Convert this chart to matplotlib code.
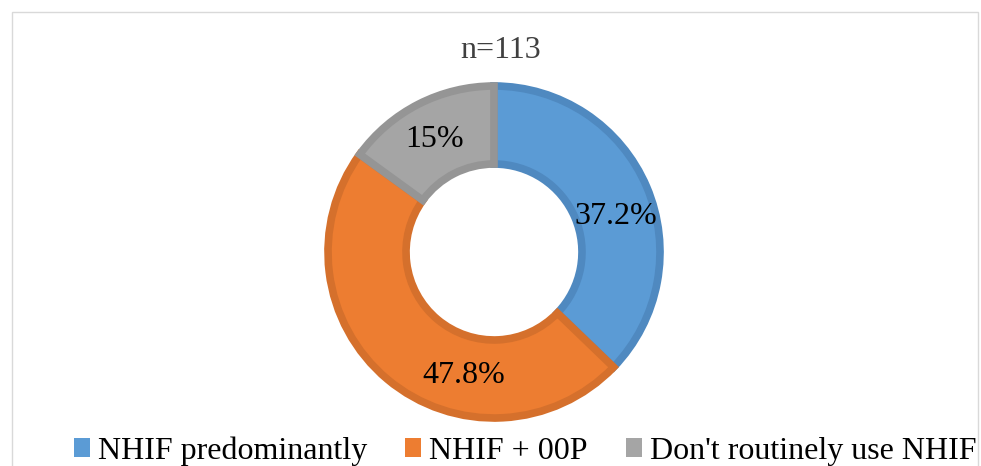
import numpy as np
import matplotlib
matplotlib.use('Agg')
import matplotlib.pyplot as plt
from matplotlib.patches import Patch, Rectangle

categories = ['NHIF predominantly', 'NHIF + 00P', "Don't routinely use NHIF"]
shares = [37.2, 47.8, 15]
title = 'n=113'

fills = ['#5B9BD5', '#ED7D31', '#A5A5A5']
edges = ['#4F89C0', '#D5702C', '#959595']
label_nudge_deg = [-7, 26, 1]

plt.rcParams['font.family'] = ['Liberation Serif', 'DejaVu Serif']

W, H = 981, 466
fig = plt.figure(figsize=(W / 100, H / 100), dpi=100)

# light frame of the chart area
fig.patches.append(Rectangle((12 / W, -0.1), (978 - 12) / W, (H - 12) / H + 0.1,
                             transform=fig.transFigure, fill=False,
                             ec='#D9D9D9', lw=1.0))

cx, cy, r_px = 494, 252, 166
lim = 1.12
side = 2 * r_px * lim
ax = fig.add_axes([(cx - side / 2) / W, (H - cy - side / 2) / H, side / W, side / H])

width = 0.47
wedges, _ = ax.pie(shares, colors=fills, startangle=90, counterclock=False,
                   radius=1.0, wedgeprops=dict(width=width, linewidth=5.5))
for w, ec in zip(wedges, edges):
    w.set_edgecolor(ec)
    w.set_joinstyle('miter')
    w.set_clip_on(False)
ax.set_xlim(-lim, lim)
ax.set_ylim(-lim, lim)
ax.set_aspect('equal')
ax.axis('off')

# labels in the middle of the ring
mid_r = 1.0 - width / 2
for w, v, nudge in zip(wedges, shares, label_nudge_deg):
    ang = np.deg2rad((w.theta1 + w.theta2) / 2 + nudge)
    ax.text(mid_r * np.cos(ang), mid_r * np.sin(ang), f'{v:g}%',
            ha='center', va='center', fontsize=23, color='black')

fig.text(501 / W, 1 - 51 / H, title, ha='center', va='center', fontsize=23, color='#404040')

handles = [Patch(facecolor=c, edgecolor='none') for c in fills]
fig.legend(handles, categories, loc='lower center', bbox_to_anchor=(525 / W, -0.034),
           ncol=3, frameon=False, fontsize=23, handlelength=0.5, handleheight=0.5,
           handletextpad=0.25, columnspacing=1.2, borderpad=0.0)

fig.savefig('out.png', dpi=100)
